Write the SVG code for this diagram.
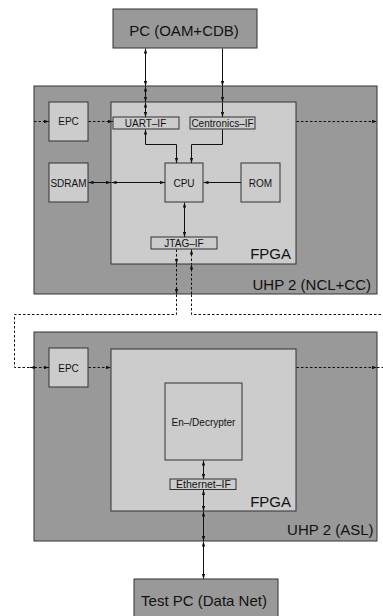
<svg xmlns="http://www.w3.org/2000/svg" width="383" height="616" viewBox="0 0 383 616">
<style>
.dark{fill:#999999;stroke:#333333;stroke-width:1}
.light{fill:#cccccc;stroke:#333333;stroke-width:1}
.t{font-family:"Liberation Sans",Arial,sans-serif;fill:#111111}
.big{font-size:15px}
.sm{font-size:10px}
.c{text-anchor:middle}
.e{text-anchor:end}
.ln{fill:none;stroke:#111111;stroke-width:1}
.dl{fill:none;stroke:#111111;stroke-width:1;stroke-dasharray:2.5,2}
.a2{marker-start:url(#ah);marker-end:url(#ah)}
.a1{marker-end:url(#ah)}
.a0{marker-start:url(#ah)}
</style>
<defs>
<marker id="ah" viewBox="0 0 6 4" refX="6" refY="2" markerWidth="5" markerHeight="3.4" markerUnits="userSpaceOnUse" orient="auto-start-reverse">
<path d="M0,0 L6,2 L0,4 z" fill="#111111"/>
</marker>
</defs>
<rect width="383" height="616" fill="#ffffff"/>
<g id="pc">
<rect class="dark" x="113" y="9" width="144" height="39"/>
<text class="t big c" x="184" y="36">PC (OAM+CDB)</text>
</g>
<g id="uhp1">
<rect class="dark" x="34" y="86" width="343" height="208"/>
<text class="t big e" x="371" y="290">UHP 2 (NCL+CC)</text>
</g>
<g id="fpga1">
<rect class="light" x="111" y="102" width="185" height="162"/>
<text class="t big e" x="291" y="259">FPGA</text>
</g>
<g id="epc1">
<rect class="light" x="49" y="102" width="39" height="39"/>
<text class="t sm c" x="68.5" y="125">EPC</text>
</g>
<g id="uart">
<rect class="light" x="113" y="117" width="66" height="12"/>
<text class="t sm c" x="145.5" y="127">UART–IF</text>
</g>
<g id="centronics">
<rect class="light" x="190" y="117" width="65" height="12"/>
<text class="t sm c" x="222.5" y="127">Centronics–IF</text>
</g>
<g id="sdram">
<rect class="light" x="49" y="163" width="39" height="39"/>
<text class="t sm c" x="68.5" y="186.5">SDRAM</text>
</g>
<g id="cpu">
<rect class="light" x="165" y="163" width="38" height="39"/>
<text class="t sm c" x="184" y="186.5">CPU</text>
</g>
<g id="rom">
<rect class="light" x="241" y="163" width="39" height="39"/>
<text class="t sm c" x="260.5" y="186.5">ROM</text>
</g>
<g id="jtag">
<rect class="light" x="151" y="237" width="66" height="12"/>
<text class="t sm c" x="184" y="246.5">JTAG–IF</text>
</g>
<g id="uhp2">
<rect class="dark" x="34" y="332" width="343" height="209"/>
<text class="t big e" x="373.5" y="535">UHP 2 (ASL)</text>
</g>
<g id="fpga2">
<rect class="light" x="111" y="349" width="185" height="162"/>
<text class="t big e" x="291" y="506.5">FPGA</text>
</g>
<g id="epc2">
<rect class="light" x="49" y="348" width="39" height="39"/>
<text class="t sm c" x="68.5" y="371.5">EPC</text>
</g>
<g id="decrypter">
<rect class="light" x="165" y="383" width="77" height="77"/>
<text class="t sm c" x="203.5" y="425.5">En–/Decrypter</text>
</g>
<g id="ethernet">
<rect class="light" x="170" y="479" width="66" height="10.5"/>
<text class="t c" style="font-size:10.5px" x="203.5" y="487.5">Ethernet–IF</text>
</g>
<g id="testpc">
<rect class="dark" x="134" y="579" width="144" height="45"/>
<text class="t big c" x="204" y="606">Test PC (Data Net)</text>
</g>
<g id="connectors">
<!-- UART -->
<line class="ln a2" x1="145.5" y1="48.5" x2="145.5" y2="86"/>
<line class="ln a2" x1="145.5" y1="86.5" x2="145.5" y2="102"/>
<line class="ln a2" x1="145.5" y1="102.5" x2="145.5" y2="117"/>
<polyline class="ln a0" points="145.5,129.5 145.5,144.5 176.5,144.5 176.5,163" style="marker-end:url(#ah)"/>
<!-- Centronics -->
<line class="ln a1" x1="222.5" y1="48.5" x2="222.5" y2="86"/>
<line class="ln a1" x1="222.5" y1="86.5" x2="222.5" y2="102"/>
<line class="ln a1" x1="222.5" y1="102.5" x2="222.5" y2="117"/>
<polyline class="ln a1" points="222.5,129.5 222.5,144.5 191.5,144.5 191.5,163"/>
<!-- SDRAM / ROM / JTAG -->
<line class="ln a2" x1="88.5" y1="182.5" x2="111" y2="182.5"/>
<line class="ln a2" x1="111.5" y1="182.5" x2="165" y2="182.5"/>
<line class="ln a1" x1="241" y1="182.5" x2="203.5" y2="182.5"/>
<line class="ln a2" x1="184.5" y1="202.5" x2="184.5" y2="237"/>
<!-- top dashed -->
<line class="dl a1" x1="34" y1="121.5" x2="49" y2="121.5"/>
<line class="dl a1" x1="88.5" y1="121.5" x2="113" y2="121.5"/>
<line class="dl a1" x1="296.5" y1="121.5" x2="377" y2="121.5"/>
<!-- JTAG dashed -->
<line class="dl a1" x1="176.5" y1="249.5" x2="176.5" y2="264"/>
<line class="dl a1" x1="176.5" y1="264.5" x2="176.5" y2="294"/>
<polyline class="dl" points="176.5,294.5 176.5,314.5 14.5,314.5 14.5,367.5 34,367.5"/>
<line class="dl a0" x1="191.5" y1="249.5" x2="191.5" y2="264"/>
<line class="dl a0" x1="191.5" y1="264.5" x2="191.5" y2="294"/>
<polyline class="dl" points="191.5,294.5 191.5,314.5 383,314.5"/>
<!-- bottom dashed -->
<line class="dl a2" x1="30" y1="367.5" x2="49" y2="367.5"/>
<line class="dl a1" x1="88.5" y1="367.5" x2="111" y2="367.5"/>
<line class="dl a1" x1="296.5" y1="367.5" x2="377" y2="367.5"/>
<line class="dl" x1="377" y1="367.5" x2="383" y2="367.5"/>
<!-- Ethernet -->
<line class="ln a2" x1="203.5" y1="460.5" x2="203.5" y2="479"/>
<line class="ln a2" x1="203.5" y1="490" x2="203.5" y2="511"/>
<line class="ln a2" x1="203.5" y1="511.5" x2="203.5" y2="541"/>
<line class="ln a2" x1="203.5" y1="541.5" x2="203.5" y2="579"/>
</g>
</svg>
